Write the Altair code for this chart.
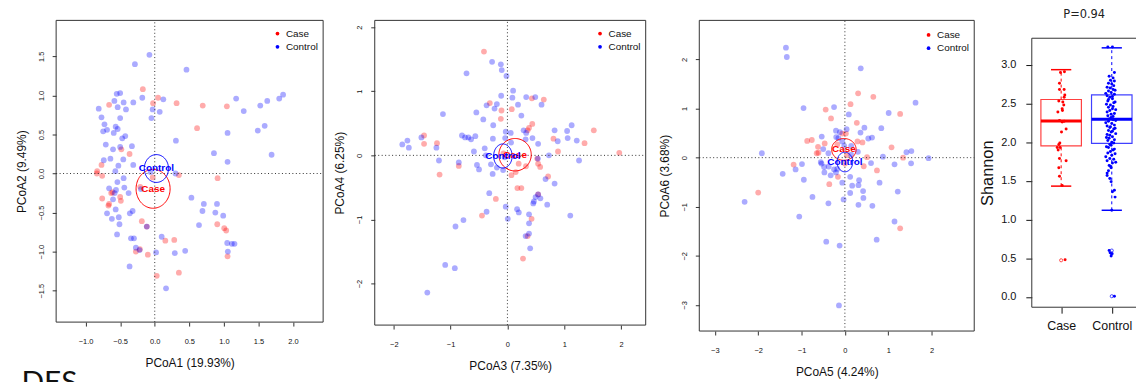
import numpy as np
import pandas as pd
import altair as alt

FONT = "Liberation Sans"
RED = "#FF0000"
BLUE = "#0000FF"
GROUPS = ["Case", "Control"]

# ---------------- Panel 1 : PCoA1 vs PCoA2 ----------------
p1_case_x = [-0.172, 0.048, -0.024, -0.66, 0.316, 0.694, 1.043, 0.612, -0.364, -0.483, -0.77, -0.833,
             -0.837, -0.76, -0.76, -0.63, -0.61, -0.66, -0.67, -0.50, -0.49, 0.349, 0.909, -0.187,
             -0.115, 0.904, 1.005, 1.033, 1.053, 0.282, 0.153, 0.349, 0.029, -0.10, -0.273, -0.215,
             -0.03, -0.21]
p1_case_y = [1.08, 0.97, 0.90, 0.88, 0.90, 0.87, 0.86, 0.58, 0.25, 0.31, 0.11, 0.03,
             0.0, -0.03, -0.32, -0.25, -0.24, -0.39, -0.41, -0.30, -0.35, -0.02, -0.06, -0.61,
             -0.68, -0.65, -0.70, -0.73, -1.06, -0.85, -0.86, -1.27, -1.31, -1.04, -1.0, -0.97,
             -0.05, -0.17]
p1_ctrl_x = [-0.077, -0.287, 0.459, -0.50, -0.55, -0.584, -0.45, -0.31, -0.18, 0.124, -0.536, -0.81,
             -0.416, -0.03, 0.072, -0.048, -0.50, -0.77, -0.727, -0.565, -0.536, -0.69, -0.746, -0.593,
             -0.426, -0.47, -0.708, -0.33, -0.50, -0.603, 0.306, -0.641, -0.737, -0.455, -0.526, -0.311,
             -0.57, -0.45, -0.54, -0.66, -0.56, -0.44, -0.58, -0.378, -0.603, -0.32, -0.36, -0.565,
             -0.62, -0.69, -0.52, -0.51, -0.545, -0.344, -0.30, -0.273, -0.22, -0.364, 0.019, 0.163,
             0.10, 0.29, 0.44, -0.115, -0.20, 0.53, 0.71, 0.69, 0.90, 0.876, 0.99, 0.64,
             1.048, 1.115, 1.153, 1.057, 0.856, 1.053, 1.053, 1.69, 1.49, 1.59, 1.526, 1.627,
             1.80, 1.856, 1.177, 1.287, 0.30, -0.06]
p1_ctrl_y = [1.52, 1.40, 1.33, 1.03, 1.02, 0.93, 0.91, 0.91, 0.97, 0.95, 0.85, 0.83,
             0.82, 0.82, 0.79, 0.71, 0.71, 0.72, 0.63, 0.60, 0.57, 0.56, 0.54, 0.52,
             0.48, 0.45, 0.37, 0.35, 0.34, 0.31, 0.42, 0.19, 0.17, 0.18, 0.10, 0.11,
             0.03, -0.06, -0.11, -0.19, -0.21, -0.18, -0.25, -0.25, -0.33, -0.48, -0.51, -0.46,
             -0.58, -0.51, -0.56, -0.65, -0.78, -0.83, -0.83, -0.95, -0.98, -1.19, -1.01, -1.47,
             -0.81, -1.02, -0.99, -0.68, -0.20, -0.31, -0.39, -0.48, -0.39, -0.50, -0.54, -0.66,
             -0.89, -0.90, -0.90, -1.0, 0.26, 0.15, 0.52, 0.24, 0.55, 0.61, 0.87, 0.93,
             0.96, 1.01, 0.96, 0.80, 0.0, 0.02]
# ellipse: centre x, centre y, radius x, radius y  (Case, Control)
p1_ell_cx = [-0.024, 0.024]
p1_ell_cy = [-0.196, 0.064]
p1_ell_rx = [0.246, 0.175]
p1_ell_ry = [0.249, 0.178]

# ---------------- Panel 2 : PCoA3 vs PCoA4 ----------------
p2_case_x = [-0.413, -0.31, -0.105, -0.116, 0.076, 0.43, 0.64, 0.437, 0.38, 0.355, -1.467, -1.467,
             -1.24, -1.194, -0.856, 0.81, 0.89, 1.357, 1.52, 1.968, 0.524, 0.54, 0.576, 0.716,
             0.198, 0.326, 0.146, 0.07, 0.175, 0.245, -0.204, -0.448, 0.425, 0.355, 0.274, 0.54,
             -0.07]
p2_case_y = [1.62, 0.815, 0.70, 0.57, 0.72, 0.89, 0.87, 0.49, 0.43, 0.39, 0.31, 0.18,
             0.19, -0.30, -0.165, 0.26, 0.06, 0.19, 0.39, 0.04, -0.05, -0.13, -0.18, -0.33,
             -0.13, -0.17, -0.26, -0.31, -0.51, -0.51, -0.68, -0.94, -0.99, -1.26, -1.61, -0.61,
             0.03]
p2_ctrl_x = [-1.41, -1.095, -0.926, -0.914, -0.774, -0.367, -0.32, -0.03, 0.006, 0.17, 0.20, 0.38,
             0.38, 0.38, 0.32, 0.40, 0.454, 0.495, 0.54, 0.58, 0.70, 1.106, 0.83, 0.67,
             0.466, -1.85, -1.76, -1.735, -1.514, -1.25, -1.205, -0.856, -1.135, -0.80, -0.745, -0.687,
             -0.64, -0.565, -0.59, -0.536, -0.50, -0.40, -0.72, -0.547, -0.425, -0.367, -0.27, -0.116,
             -0.10, -0.017, 0.10, 0.087, -0.11, -0.186, -0.227, 0.186, 0.33, 0.49, 0.60, 0.245,
             -0.25, -0.03, 0.058, -0.256, -0.04, 0.285, 0.33, 0.32, 0.44, 0.54, 0.83, 1.05,
             1.13, 1.06, 1.22, 0.885, 0.73, 0.536, 1.26, -0.29, -0.26, -0.186, -0.076, -0.05,
             0.064, -0.38]
p2_ctrl_y = [-2.14, -1.71, -1.76, -1.11, -1.01, -0.88, -0.59, -0.80, -0.99, -0.84, -0.89, -0.92,
             -1.06, -1.22, -1.26, -1.45, -0.75, -0.65, -0.61, -0.67, -0.77, -0.94, -0.44, -0.37,
             -0.72, 0.17, 0.23, 0.12, 0.28, 0.12, -0.08, -0.11, 0.645, 0.31, 0.28, 0.28,
             0.25, 0.30, 0.06, -0.15, -0.22, 0.11, 1.28, 0.67, 0.56, 0.78, 1.46, 1.42,
             1.33, 1.24, 1.01, 0.90, 0.93, 0.80, 0.73, 0.79, 0.91, 0.91, 0.79, 0.62,
             0.47, 0.37, 0.35, 0.26, 0.27, 0.39, 0.35, 0.25, 0.27, 0.18, 0.39, 0.38,
             0.47, 0.27, 0.23, 0.22, 0.0, -0.05, -0.08, -0.14, -0.29, -0.19, -0.23, -0.03,
             0.20, 0.0]
p2_ell_cx = [0.134, -0.08]
p2_ell_cy = [0.01, -0.01]
p2_ell_rx = [0.285, 0.163]
p2_ell_ry = [0.253, 0.188]

# ---------------- Panel 3 : PCoA5 vs PCoA6 ----------------
p3_case_x = [0.305, 0.656, 0.13, -0.443, -0.32, 0.275, 1.275, 1.076, 1.343, -0.87, -0.763, -0.62,
             -0.65, -0.61, -0.466, -1.183, -2.0, -0.36, -0.16, 0.435, 0.511, 0.74, 0.405, 0.29,
             -0.06, 0.023, 1.275, 0.046, -0.176, 0.0]
p3_case_y = [1.31, 1.24, 1.09, 0.98, 0.80, 0.71, 0.89, 0.21, 0.0, 0.34, 0.36, 0.22,
             0.09, 0.10, 0.29, -0.14, -0.71, -0.54, -0.39, -0.175, 0.01, -0.26, 0.31, 0.33,
             0.49, 0.49, -1.44, 0.05, 0.27, -0.12]
p3_ctrl_x = [-1.36, -1.34, 0.366, -0.954, -0.25, 0.09, 1.63, 1.01, 0.04, 0.45, 0.36, 0.84,
             0.626, 0.54, -0.534, -0.206, -0.115, -0.2, -0.15, -0.50, -1.916, -0.99, -1.137, -1.435,
             -0.947, -0.748, -1.053, -2.313, -0.38, -0.03, -0.43, -0.122, -0.137, 0.733, 1.145, 1.22,
             0.80, 0.42, 0.427, 0.313, 0.634, 0.122, 0.168, 0.328, 0.313, 0.122, -0.06, 0.603,
             0.878, 1.145, 1.42, 1.534, 1.527, 1.93, -0.557, -0.48, -0.473, -0.328, -0.25, -0.206,
             -0.374, 0.145, 0.30, 0.145, -0.06, -0.015, -0.38, -0.54, -0.175]
p3_ctrl_y = [2.24, 2.05, 1.82, 1.01, 1.03, 0.88, 1.12, 0.91, 0.58, 0.61, 0.51, 0.60,
             0.41, 0.39, 0.43, 0.55, 0.52, 0.42, 0.40, 0.175, 0.09, -0.13, -0.24, -0.33,
             -0.45, -0.80, -1.20, -0.90, -0.93, -0.85, -1.71, -1.79, -3.01, -1.67, -1.30, -0.69,
             -0.51, -0.68, -0.82, -0.96, -0.98, -0.72, -0.57, -0.46, -0.56, -0.39, -0.51, -0.11,
             0.02, -0.135, 0.11, 0.135, -0.115, -0.01, -0.09, -0.19, -0.30, -0.36, -0.24, -0.30,
             -0.18, 0.06, 0.12, 0.24, 0.33, 0.24, 0.09, -0.12, -0.23]
p3_ell_cx = [-0.023, 0.0]
p3_ell_cy = [0.168, -0.088]
p3_ell_rx = [0.282, 0.18]
p3_ell_ry = [0.222, 0.20]

# ---------------- Panel 4 : Shannon boxplot ----------------
box_q1 = [1.953, 1.983]
box_med = [2.274, 2.295]
box_q3 = [2.551, 2.611]
box_lo = [1.432, 1.12]
box_hi = [2.936, 3.218]
case_out = [0.474]
ctrl_out = [0.60, 0.56, 0.01]
case_vals = [2.90, 2.91, 2.76, 2.68, 2.68, 2.61, 2.58, 2.53, 2.52, 2.48, 2.43, 2.39, 2.41, 2.28, 2.27,
             2.26, 2.17, 2.13, 1.99, 1.97, 1.93, 1.90, 1.93, 1.79, 1.76, 1.67, 1.56, 1.44, 0.48]
case_jit = [-0.013, 0.065, -0.033, -0.033, 0.059, 0.072, 0.059, -0.046, 0.033, 0.052, 0.02, -0.065,
            0.026, -0.033, 0.059, 0.02, 0.098, 0.007, -0.026, -0.046, -0.078, -0.059, -0.02, -0.033,
            0.098, -0.046, -0.033, 0.02, 0.078]
ctrl_vals = [3.23, 3.23, 2.90, 2.85, 2.83, 2.80, 2.79, 2.76, 2.75, 2.73, 2.71, 2.70, 2.68, 2.67, 2.66,
             2.64, 2.63, 2.62, 2.60, 2.59, 2.58, 2.56, 2.55, 2.53, 2.52, 2.51, 2.49, 2.48, 2.46, 2.45,
             2.43, 2.42, 2.41, 2.39, 2.37, 2.36, 2.34, 2.33, 2.32, 2.30, 2.29, 2.28, 2.27, 2.25, 2.24,
             2.22, 2.21, 2.20, 2.19, 2.18, 2.17, 2.15, 2.14, 2.13, 2.11, 2.10, 2.09, 2.07, 2.06, 2.05,
             2.03, 2.02, 2.00, 1.99, 1.97, 1.96, 1.94, 1.93, 1.91, 1.90, 1.88, 1.86, 1.85, 1.83, 1.81,
             1.79, 1.78, 1.76, 1.74, 1.73, 1.70, 1.69, 1.67, 1.63, 1.60, 1.57, 1.53, 1.49, 1.38, 1.36,
             1.29, 1.12, 0.60, 0.57, 0.56, 0.53, 0.01]
ctrl_jit = [-0.078, 0.013, 0.052, -0.052, 0.026, -0.026, 0.052, -0.065, 0.0, 0.039, -0.092, -0.033,
            0.026, 0.065, -0.065, -0.013, -0.118, 0.052, -0.092, 0.013, -0.039, 0.013, -0.065, -0.078,
            0.065, 0.039, -0.105, -0.026, 0.026, -0.065, 0.013, 0.078, -0.039, -0.092, 0.052, -0.013,
            -0.078, 0.026, -0.013, -0.052, 0.026, 0.078, -0.065, -0.118, 0.0, 0.052, -0.092, -0.026,
            -0.039, 0.065, 0.039, -0.065, 0.013, -0.013, 0.078, -0.092, -0.039, 0.013, -0.105, -0.052,
            0.052, -0.078, 0.0, 0.039, -0.039, -0.013, -0.105, -0.065, 0.052, 0.026, -0.026, -0.078,
            0.065, 0.0, -0.118, -0.039, 0.039, -0.092, 0.078, 0.013, -0.052, -0.026, -0.013, -0.065,
            -0.092, -0.092, -0.039, -0.013, 0.052, 0.013, 0.065, 0.0, -0.052, -0.033, 0.0, -0.013,
            0.052]

color_scale = alt.Scale(domain=GROUPS, range=[RED, BLUE])
ONE = pd.DataFrame({"a": [0]})


def scatter_panel(case_x, case_y, ctrl_x, ctrl_y, ecx, ecy, erx, ery, cfg, extra=None):
    x0, x1 = cfg["xlim"]
    y0, y1 = cfg["ylim"]
    fw, W, H = cfg["frame_w"], cfg["width"], cfg["height"]
    xmax = x0 + W * (x1 - x0) / fw
    xs = alt.Scale(domain=[x0, xmax], nice=False, zero=False)
    ys = alt.Scale(domain=[y0, y1], nice=False, zero=False)
    xaxis = alt.Axis(values=cfg["xticks"], format=cfg["fmt"], title=cfg["xtitle"], tickSize=4,
                     labelPadding=11.5, labelFontSize=7.5, titleFontSize=12, titleX=fw / 2,
                     titleY=40.5, titleBaseline="middle", titleAlign="center")
    yaxis = alt.Axis(values=cfg["yticks"], format=cfg["fmt"], title=cfg["ytitle"], tickSize=4,
                     labelPadding=7, labelFontSize=7.5, labelAngle=270, labelAlign="center",
                     labelBaseline="bottom", titleFontSize=12, titleAngle=270, titleX=-35,
                     titleY=H / 2, titleBaseline="middle", titleAlign="center")

    def X(f):
        return alt.X(f, scale=xs, axis=xaxis)

    def Y(f):
        return alt.Y(f, scale=ys, axis=yaxis)

    pts = pd.concat([
        pd.DataFrame({"x": case_x, "y": case_y, "grp": "Case"}),
        pd.DataFrame({"x": ctrl_x, "y": ctrl_y, "grp": "Control"}),
    ])
    points = alt.Chart(pts).mark_circle(size=34, opacity=0.33).encode(
        x=X("x:Q"), y=Y("y:Q"),
        color=alt.Color("grp:N", scale=color_scale, legend=None),
    )
    frame = alt.Chart(pd.DataFrame({"x": [x0], "x2": [x1], "y": [y0], "y2": [y1]})).mark_rect(
        fillOpacity=0, stroke="#333333", strokeWidth=1).encode(
        x=X("x:Q"), x2="x2:Q", y=Y("y:Q"), y2="y2:Q")
    vline = alt.Chart(pd.DataFrame({"x": [0], "y": [y0], "y2": [y1]})).mark_rule(
        strokeDash=[1, 2.5], color="#333333", strokeWidth=1).encode(
        x=X("x:Q"), y=Y("y:Q"), y2="y2:Q")
    hline = alt.Chart(pd.DataFrame({"x": [x0], "x2": [x1], "y": [0]})).mark_rule(
        strokeDash=[1, 2.5], color="#333333", strokeWidth=1).encode(
        x=X("x:Q"), x2="x2:Q", y=Y("y:Q"))

    t = np.linspace(0, 2 * np.pi, 91)
    rows = []
    for g, cx, cy, rx, ry in zip(GROUPS, ecx, ecy, erx, ery):
        for i, tt in enumerate(t):
            rows.append({"grp": g, "i": i, "x": cx + rx * np.cos(tt), "y": cy + ry * np.sin(tt)})
    ell = alt.Chart(pd.DataFrame(rows)).mark_line(strokeWidth=1).encode(
        x=X("x:Q"), y=Y("y:Q"),
        color=alt.Color("grp:N", scale=color_scale, legend=None), order="i:Q")
    labs = alt.Chart(pd.DataFrame({"grp": GROUPS, "x": ecx, "y": ecy})).mark_text(
        font=FONT, fontWeight="bold", fontSize=10).encode(
        x=X("x:Q"), y=Y("y:Q"),
        text="grp:N", color=alt.Color("grp:N", scale=color_scale, legend=None))

    layers = [points, frame, vline, hline, ell, labs]
    lx = fw - 46
    for g, col, ly in [("Case", RED, cfg["leg_y"]), ("Control", BLUE, cfg["leg_y"] + 13.3)]:
        layers.append(alt.Chart(ONE).mark_circle(size=14, opacity=1, color=col).encode(
            x=alt.value(lx), y=alt.value(ly)))
        layers.append(alt.Chart(ONE).mark_text(text=g, font=FONT, fontSize=10, align="left",
                                               baseline="middle", color="#111111").encode(
            x=alt.value(lx + 8.5), y=alt.value(ly)))
    if extra is not None:
        layers.extend(extra)
    return alt.layer(*layers).properties(width=W, height=H)


des = alt.Chart(ONE).mark_text(text="DES", font="Lato", fontSize=30, align="left",
                               baseline="alphabetic", color="#111111").encode(
    x=alt.value(-35), y=alt.value(374))

cfg1 = dict(xlim=[-1.426, 2.435], ylim=[-1.903, 1.961], frame_w=269, width=321, height=304,
            xticks=[-1.0, -0.5, 0.0, 0.5, 1.0, 1.5, 2.0], yticks=[-1.5, -1.0, -0.5, 0.0, 0.5, 1.0, 1.5],
            fmt=".1f", xtitle="PCoA1 (19.93%)", ytitle="PCoA2 (9.49%)", leg_y=13.3)
cfg2 = dict(xlim=[-2.335, 2.433], ylim=[-2.648, 2.106], frame_w=273, width=327, height=307,
            xticks=[-2, -1, 0, 1, 2], yticks=[-2, -1, 0, 1, 2],
            fmt="d", xtitle="PCoA3 (7.35%)", ytitle="PCoA4 (6.25%)", leg_y=13.3)
cfg3 = dict(xlim=[-3.359, 2.984], ylim=[-3.531, 2.796], frame_w=277, width=335, height=313,
            xticks=[-3, -2, -1, 0, 1, 2], yticks=[-3, -2, -1, 0, 1, 2],
            fmt="d", xtitle="PCoA5 (4.24%)", ytitle="PCoA6 (3.68%)", leg_y=14.7)

panel1 = scatter_panel(p1_case_x, p1_case_y, p1_ctrl_x, p1_ctrl_y,
                       p1_ell_cx, p1_ell_cy, p1_ell_rx, p1_ell_ry, cfg1, extra=[des])
panel2 = scatter_panel(p2_case_x, p2_case_y, p2_ctrl_x, p2_ctrl_y,
                       p2_ell_cx, p2_ell_cy, p2_ell_rx, p2_ell_ry, cfg2)
panel3 = scatter_panel(p3_case_x, p3_case_y, p3_ctrl_x, p3_ctrl_y,
                       p3_ell_cx, p3_ell_cy, p3_ell_rx, p3_ell_ry, cfg3)

# ---- boxplot panel ----
BW, BH = 105, 289
bx0 = 0.42
bx1 = bx0 + BW / 51.0
by0, by1f = -0.132, 3.342
by1 = by1f + 18 * (by1f - by0) / 271.0
bxs = alt.Scale(domain=[bx0, bx1], nice=False, zero=False)
bys = alt.Scale(domain=[by0, by1], nice=False, zero=False)

stats = pd.DataFrame({"grp": GROUPS, "c": [1, 2], "q1": box_q1, "med": box_med, "q3": box_q3,
                      "lo": box_lo, "hi": box_hi})
stats["l"] = stats["c"] - 0.4
stats["r"] = stats["c"] + 0.4
stats["cl"] = stats["c"] - 0.2
stats["cr"] = stats["c"] + 0.2

bx_axis = alt.Axis(values=[1, 2], labelExpr="datum.value == 1 ? 'Case' : 'Control'", title=None,
                   tickSize=6, labelPadding=6, labelFontSize=12.5, tickColor="#111111")
by_axis = alt.Axis(values=[0.0, 0.5, 1.0, 1.5, 2.0, 2.5, 3.0], format=".1f", title="Shannon",
                   tickSize=6, labelPadding=10, labelFontSize=11, titleFontSize=16.5, titleAngle=270,
                   titleX=-44.3, titleY=153.5, titleBaseline="middle", titleAlign="center",
                   tickColor="#111111")


def BX(f):
    return alt.X(f, scale=bxs, axis=bx_axis)


def BY(f):
    return alt.Y(f, scale=bys, axis=by_axis)


GC = alt.Color("grp:N", scale=color_scale, legend=None)

frame_l = alt.Chart(pd.DataFrame({"x": [bx0], "y": [by0], "y2": [by1f]})).mark_rule(
    color="#333333", strokeWidth=1).encode(x=BX("x:Q"), y=BY("y:Q"), y2="y2:Q")
frame_tb = alt.Chart(pd.DataFrame({"x": [bx0, bx0], "x2": [bx1, bx1], "y": [by0, by1f]})).mark_rule(
    color="#333333", strokeWidth=1).encode(x=BX("x:Q"), x2="x2:Q", y=BY("y:Q"))
boxes = alt.Chart(stats).mark_rect(fillOpacity=0, strokeWidth=1.2, strokeOpacity=0.75).encode(
    x=BX("l:Q"), x2="r:Q", y=BY("q1:Q"), y2="q3:Q",
    stroke=alt.Stroke("grp:N", scale=color_scale, legend=None))
meds = alt.Chart(stats).mark_rule(strokeWidth=3).encode(
    x=BX("l:Q"), x2="r:Q", y=BY("med:Q"), color=GC)
wh_up = alt.Chart(stats).mark_rule(strokeWidth=1, strokeDash=[3, 3]).encode(
    x=BX("c:Q"), y=BY("q3:Q"), y2="hi:Q", color=GC)
wh_dn = alt.Chart(stats).mark_rule(strokeWidth=1, strokeDash=[3, 3]).encode(
    x=BX("c:Q"), y=BY("lo:Q"), y2="q1:Q", color=GC)
cap_hi = alt.Chart(stats).mark_rule(strokeWidth=1.5).encode(
    x=BX("cl:Q"), x2="cr:Q", y=BY("hi:Q"), color=GC)
cap_lo = alt.Chart(stats).mark_rule(strokeWidth=1.5).encode(
    x=BX("cl:Q"), x2="cr:Q", y=BY("lo:Q"), color=GC)

jit = pd.concat([
    pd.DataFrame({"grp": "Case", "v": case_vals, "jx": [1 + j for j in case_jit]}),
    pd.DataFrame({"grp": "Control", "v": ctrl_vals, "jx": [2 + j for j in ctrl_jit]}),
])
jpts = alt.Chart(jit).mark_circle(size=9, opacity=1).encode(x=BX("jx:Q"), y=BY("v:Q"), color=GC)
outs = pd.concat([
    pd.DataFrame({"grp": "Case", "v": case_out, "c": 1}),
    pd.DataFrame({"grp": "Control", "v": ctrl_out, "c": 2}),
])
opts = alt.Chart(outs).mark_point(shape="circle", size=10, strokeWidth=1, filled=False).encode(
    x=BX("c:Q"), y=BY("v:Q"), color=GC)
ptxt = alt.Chart(ONE).mark_text(text="P=0.94", font="DejaVu Sans", fontSize=11.5, align="center",
                                baseline="top", color="#222222").encode(
    x=alt.value(52.8), y=alt.value(-11))

panel4 = alt.layer(boxes, frame_l, frame_tb, meds, wh_up, wh_dn, cap_hi, cap_lo, jpts, opts,
                   ptxt).properties(width=BW, height=BH)

chart = alt.hconcat(panel1, panel2, panel3, panel4, spacing=0, bounds="flush").properties(
    padding={"left": 7.5, "top": 0, "right": 0, "bottom": 0}
).configure_view(stroke=None).configure_axis(
    grid=False, domain=False, labelFont=FONT, titleFont=FONT, titleFontWeight="normal",
    tickColor="#333333", labelColor="#111111", titleColor="#111111")

chart.save("out.html", embed_options={"renderer": "svg", "actions": False})
